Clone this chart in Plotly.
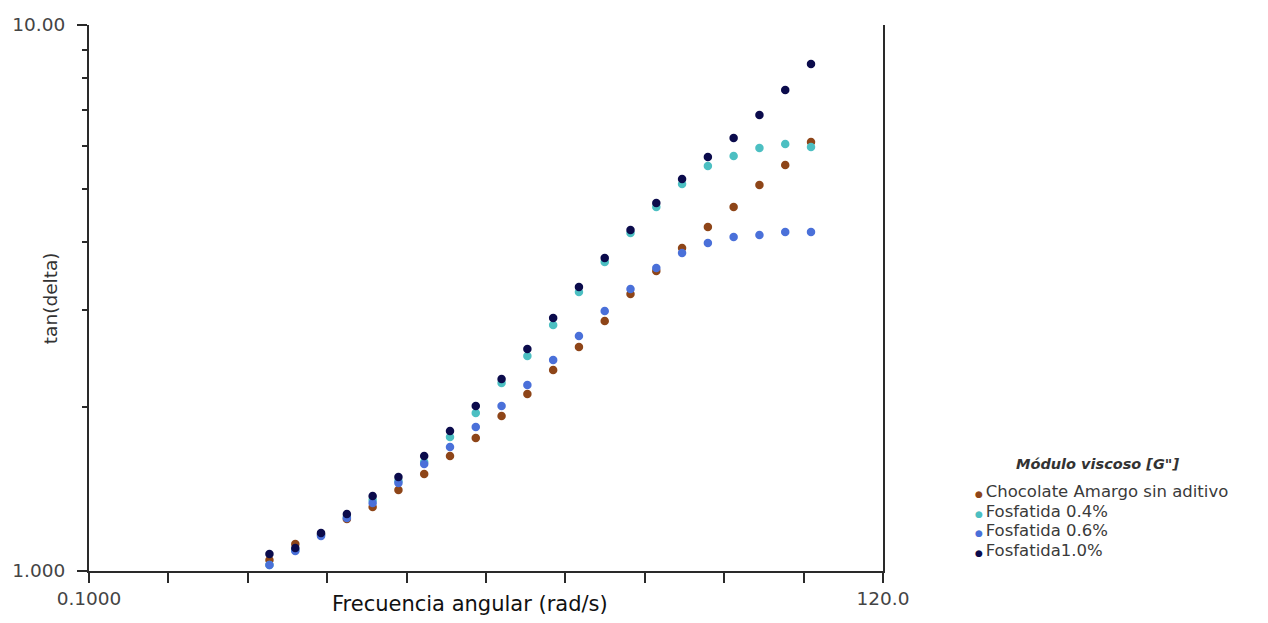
import numpy as np
import plotly.graph_objects as go

# Angular frequency sweep (rad/s)
freq = [0.501, 0.631, 0.794, 1.0, 1.259, 1.585, 1.995, 2.512, 3.162, 3.981, 5.012,
        6.31, 7.943, 10.0, 12.59, 15.85, 19.95, 25.12, 31.62, 39.81, 50.12, 63.1]

# tan(delta) for each formulation
tan_sin_aditivo = [1.047, 1.121, 1.169, 1.245, 1.310, 1.407, 1.506, 1.624, 1.752, 1.923, 2.110,
                   2.334, 2.572, 2.870, 3.217, 3.544, 3.904, 4.266, 4.642, 5.093, 5.541, 6.105]
tan_fosf_04 = [1.026, 1.093, 1.164, 1.256, 1.349, 1.462, 1.584, 1.760, 1.947, 2.210, 2.476,
               2.821, 3.243, 3.680, 4.159, 4.642, 5.115, 5.518, 5.755, 5.952, 6.054, 5.978]
tan_fosf_06 = [1.026, 1.088, 1.159, 1.251, 1.332, 1.449, 1.570, 1.687, 1.835, 2.005, 2.191,
               2.434, 2.694, 2.994, 3.285, 3.589, 3.823, 3.987, 4.089, 4.124, 4.177, 4.177]
tan_fosf_10 = [1.074, 1.102, 1.174, 1.272, 1.372, 1.486, 1.624, 1.804, 2.005, 2.247, 2.551,
               2.907, 3.313, 3.744, 4.212, 4.720, 5.224, 5.731, 6.209, 6.842, 7.603, 8.484]

series_values = [tan_sin_aditivo, tan_fosf_04, tan_fosf_06, tan_fosf_10]
series_names = ["Chocolate Amargo sin aditivo", "Fosfatida 0.4%", "Fosfatida 0.6%", "Fosfatida1.0%"]
series_colors = ["#8e4518", "#4cbfc2", "#4a70d9", "#0b0b4c"]

legend_title = "Módulo viscoso [G\"]"
x_title = "Frecuencia angular (rad/s)"
y_title = "tan(delta)"

x_range = [0.1, 120.0]
x_tick_text = ["0.1000", "", "", "", "", "", "", "", "", "", "120.0"]
y_range = [1.0, 10.0]
y_tick_text = ["1.000", "10.00"]
y_minor_vals = [2, 3, 4, 5, 6, 7, 8, 9]

FONT = "DejaVu Sans"
W, H = 1268, 623
ML, MR, MT, MB = 86, 385, 25, 52
PW, PH = W - ML - MR, H - MT - MB


def px_x(px):
    return (px - ML) / PW


def px_y(py):
    return (H - MB - py) / PH


x_tick_vals = np.logspace(np.log10(x_range[0]), np.log10(x_range[1]), len(x_tick_text))

fig = go.Figure()
for name, vals, color in zip(series_names, series_values, series_colors):
    fig.add_trace(go.Scatter(
        x=freq, y=vals, mode="markers", name=name, showlegend=False,
        marker=dict(color=color, size=8.5, line=dict(width=0)),
    ))

axis_line = "#2a2a2a"
fig.update_xaxes(
    type="log", range=[np.log10(x_range[0]), np.log10(x_range[1])],
    showline=True, linecolor=axis_line, linewidth=2, mirror=False,
    ticks="outside", ticklen=10, tickwidth=2, tickcolor=axis_line,
    tickmode="array", tickvals=list(x_tick_vals), ticktext=x_tick_text,
    tickfont=dict(family=FONT, size=18.5, color="#444444"),
    ticklabelstandoff=0,
    showgrid=False, zeroline=False,
)
fig.update_yaxes(
    type="log", range=[np.log10(y_range[0]), np.log10(y_range[1])],
    showline=True, linecolor=axis_line, linewidth=2, mirror=True,
    ticks="outside", ticklen=10, tickwidth=2, tickcolor=axis_line,
    tickmode="array", tickvals=y_range, ticktext=y_tick_text,
    tickfont=dict(family=FONT, size=18.5, color="#444444"),
    ticklabelstandoff=8,
    minor=dict(tickmode="array", tickvals=y_minor_vals, ticks="outside",
               ticklen=5, tickwidth=2, tickcolor=axis_line, showgrid=False),
    showgrid=False, zeroline=False,
)

# Legend block: one multi-line text, each row led by a small dot in the series colour.
LEGEND_PITCH = 19.5
legend_rows = [
    f'<span style="color:{c};font-size:9px">\u25cf </span>'
    f'<span style="font-size:16.5px">{n}</span>'
    for n, c in zip(series_names, series_colors)
]
legend_text = "<br>".join(legend_rows)

annotations = [
    dict(text=x_title, x=px_x(468), y=px_y(604), xref="paper", yref="paper",
         xanchor="center", yanchor="middle", showarrow=False,
         font=dict(family=FONT, size=21, color="#111111")),
    dict(text=y_title, x=px_x(47), y=0.5, xref="paper", yref="paper", textangle=-90,
         xanchor="center", yanchor="middle", showarrow=False,
         font=dict(family=FONT, size=18.5, color="#333333")),
    dict(text="<b><i>" + legend_title + "</i></b>", x=px_x(1098), y=px_y(464),
         xref="paper", yref="paper", xanchor="center", yanchor="middle", showarrow=False,
         font=dict(family=FONT, size=14.5, color="#333333")),
    dict(text=legend_text, x=px_x(973), y=px_y(521), xref="paper", yref="paper",
         xanchor="left", yanchor="middle", align="left", showarrow=False,
         font=dict(family=FONT, size=LEGEND_PITCH / 1.3, color="#3a3a3a")),
]

fig.update_layout(
    width=W, height=H,
    margin=dict(l=ML, r=MR, t=MT, b=MB, pad=0),
    paper_bgcolor="white", plot_bgcolor="white",
    font=dict(family=FONT),
    annotations=annotations,
    showlegend=False,
)

fig.write_html("out.html")
